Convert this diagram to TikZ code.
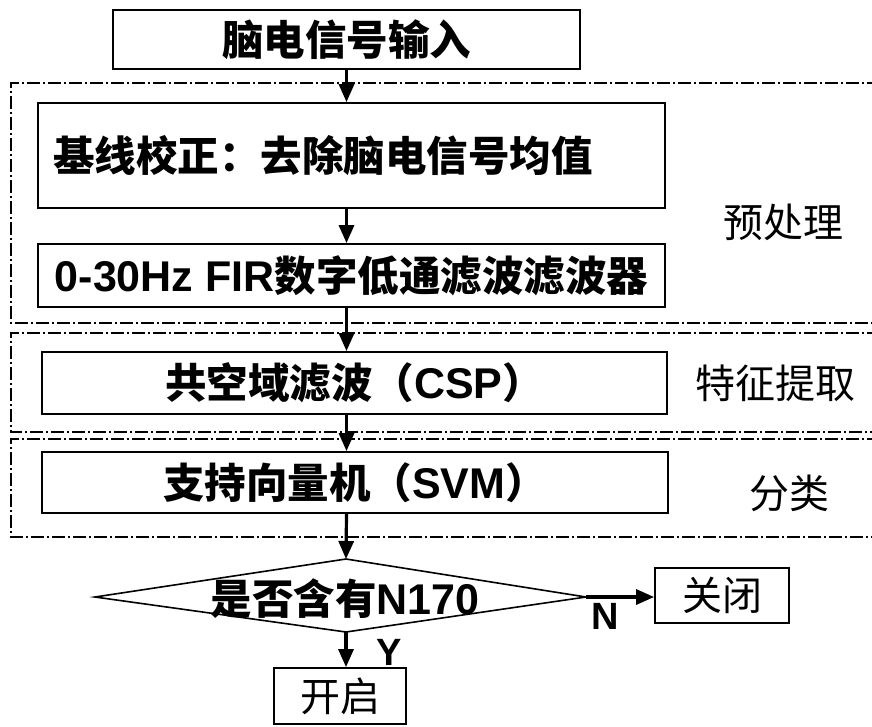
\documentclass[tikz,border=0pt]{standalone}
\usepackage{fontspec}
\setmainfont{Noto Sans CJK SC}
\newfontfamily\lat{Liberation Sans}
\usetikzlibrary{arrows.meta,calc}
\newcommand{\latb}{\lat\bfseries\fontsize{43}{43}\selectfont}
\begin{document}
\begin{tikzpicture}[x=1pt,y=-1pt,
  box/.style={draw,line width=1.8pt,inner sep=0pt,font=\bfseries\fontsize{41.5}{41.5}\selectfont},
  region/.style={line width=1.4pt,dash pattern=on 13pt off 3pt on 2pt off 3pt},
  arr/.style={line width=3.2pt,-{Triangle[length=18pt,width=15pt]}},
  lbl/.style={font=\fontsize{40}{40}\selectfont,inner sep=0pt},
  yn/.style={font=\lat\bfseries\fontsize{38}{38}\selectfont,inner sep=0pt}]
\useasboundingbox (0,0) rectangle (872,726);
% regions
\draw[region] (880,83) -- (11,83) -- (11,323) -- (880,323);
\draw[region] (880,333) -- (11,333) -- (11,432) -- (880,432);
\draw[region] (880,439) -- (11,439) -- (11,537) -- (880,537);
% boxes
\node[box,minimum width=467pt,minimum height=59pt] (in) at (346.5,39.5) {脑电信号输入};
\node[box,minimum width=627pt,minimum height=105pt,text width=597pt,align=left] (b1) at (351.5,155.5) {基线校正：去除脑电信号均值};
\node[box,minimum width=627pt,minimum height=63pt] (b2) at (351.5,275.5) {{\latb 0-30Hz FIR}数字低通滤波滤波器};
\node[box,minimum width=625pt,minimum height=62pt] (b3) at (354.5,383) {共空域滤波（{\latb CSP}）};
\node[box,minimum width=626pt,minimum height=61pt] (b4) at (355,482.5) {支持向量机（{\latb SVM}）};
% side labels
\node[lbl] (l1) at (783,222) {预处理};
\node[lbl] (l2) at (775,383) {特征提取};
\node[lbl] (l3) at (789,493) {分类};
% decision
\coordinate (dt) at (346,559);
\coordinate (db) at (346,632);
\coordinate (dl) at (95,597);
\coordinate (dr) at (586,597);
\draw[line width=1.6pt] (dt) -- (dr) -- (db) -- (dl) -- cycle;
\node[font=\bfseries\fontsize{41.5}{41.5}\selectfont,inner sep=0pt] (dq) at (345,599) {是否含有{\latb N170}};
\node[box,font=\fontsize{40}{40}\selectfont,minimum width=134pt,minimum height=55pt] (off) at (722,595.5) {关闭};
\node[box,font=\fontsize{40}{40}\selectfont,minimum width=132pt,minimum height=56pt] (on) at (340,696) {开启};
% arrows
\draw[arr] (in.south) -- (in.south |- b1.north);
\draw[arr] (b1.south -| in) -- (b2.north -| in);
\draw[arr] (b2.south -| in) -- (b3.north -| in);
\draw[arr] (b3.south -| in) -- (b4.north -| in);
\draw[arr] (b4.south -| in) -- (dt);
\draw[arr] (dr) -- (off.west |- dr);
\draw[arr] (db) -- (db |- on.north);
\node[yn] (n) at (605,616) {N};
\node[yn] (y) at (389,652) {Y};
\end{tikzpicture}
\end{document}
